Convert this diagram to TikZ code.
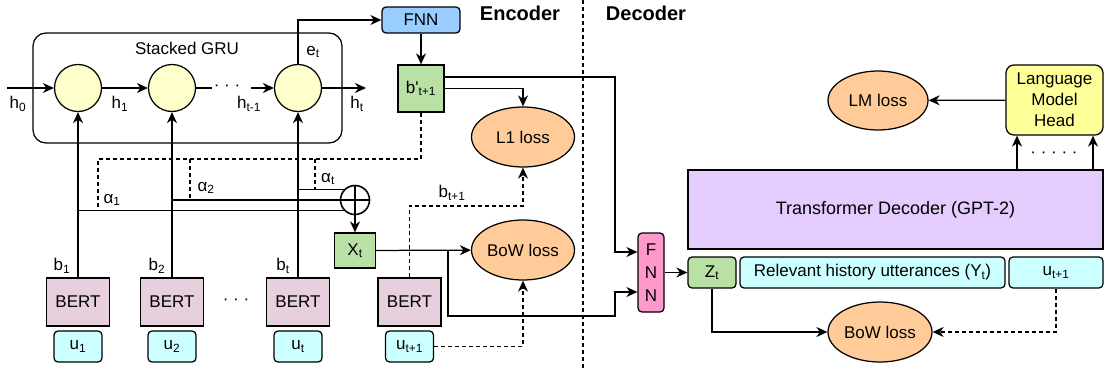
\documentclass[tikz,border=0pt]{standalone}
\usepackage{fontspec}
\setmainfont{Liberation Sans}
\usetikzlibrary{arrows.meta}
\usetikzlibrary{shapes}
\usetikzlibrary{calc}
\usetikzlibrary{positioning}

\definecolor{gruyellow}{HTML}{FFFFCC}
\definecolor{bertpink}{HTML}{E6D0DE}
\definecolor{uttcyan}{HTML}{CCFFFF}
\definecolor{lossorange}{HTML}{FFCC99}
\definecolor{fnnblue}{HTML}{99CCFF}
\definecolor{vecgreen}{HTML}{B9E0A5}
\definecolor{fnnpink}{HTML}{FF99CC}
\definecolor{transpurple}{HTML}{E5CCFF}
\definecolor{headyellow}{HTML}{FFFF99}

\begin{document}
\begin{tikzpicture}[x=1pt, y=-1pt, line width=1.25pt,
    >={Stealth[length=11pt,width=10pt,inset=3.5pt]},
    every node/.style={font=\fontsize{17}{20}\selectfont, inner sep=0pt},
    dline/.style={dash pattern=on 4pt off 3pt},
    gru/.style={circle, draw, fill=gruyellow, minimum size=47pt},
    bert/.style={draw, fill=bertpink, minimum width=63pt, minimum height=48pt},
    utt/.style={draw, fill=uttcyan, rounded corners=4pt, minimum width=48pt, minimum height=31pt},
    vec/.style={draw, fill=vecgreen},
    loss/.style={ellipse, draw, fill=lossorange, minimum width=103pt, minimum height=60pt}]

  \useasboundingbox (0,0) rectangle (1110,370);

%%%%%%%%%%%% Stacked GRU
  \node[draw, rounded corners=13pt, minimum width=309pt, minimum height=110pt] (stack) at (187.5,88) {};
  \node (stackname) at (187,48) {Stacked GRU};
  \node[gru] (g1) at (78,88) {};
  \node[gru] (g2) at (172,88) {};
  \node[gru] (gt) at (298,88) {};
  \coordinate (hin) at (7,88);
  \coordinate (hmid) at (251,88);
  \coordinate (hout) at (366,88);
  \draw[->] (hin) -- (g1);
  \draw[->] (g1) -- (g2);
  \draw (g2.east) -- ++(16,0);
  \node (hdots) at (227,88) {· · ·};
  \draw[->] (hmid) -- (gt);
  \draw[->] (gt) -- (hout);
  \node (lh0) at (18,104) {h\textsubscript{0}};
  \node (lh1) at (120,104) {h\textsubscript{1}};
  \node (lhm) at (249,104) {h\textsubscript{t-1}};
  \node (lht) at (357,104) {h\textsubscript{t}};

%%%%%%%%%%%% FNN and predicted b'
  \node[draw, fill=fnnblue, rounded corners=4pt, minimum width=78pt, minimum height=26pt] (fnn) at (421,20) {FNN};
  \node[vec, minimum width=46pt, minimum height=47pt] (bp) at (421,88.5) {b\textquotesingle\textsubscript{t+1}};
  \draw[->] (gt.north) |- (fnn.west);
  \node (let) at (313,52) {e\textsubscript{t}};
  \draw[->] (fnn) -- (bp);
  \node[loss] (l1) at (523,137) {L1 loss};
  \draw[->] (bp.east) -| (l1);

%%%%%%%%%%%% BERT encoders
  \node[bert] (bert1) at (78,302) {BERT};
  \node[bert] (bert2) at (172,302) {BERT};
  \node[bert] (bertt) at (298,302) {BERT};
  \node (bdots) at (236,302) {· · ·};
  \node[utt] (u1) at (78,346.5) {u\textsubscript{1}};
  \node[utt] (u2) at (172,346.5) {u\textsubscript{2}};
  \node[utt] (ut) at (298,346.5) {u\textsubscript{t}};
  \node (lb1) at (62,266) {b\textsubscript{1}};
  \node (lb2) at (157,266) {b\textsubscript{2}};
  \node (lbt) at (283,266) {b\textsubscript{t}};
  \draw[->] (bert1) -- (g1);
  \draw[->] (bert2) -- (g2);
  \draw[->] (bertt) -- (gt);

%%%%%%%%%%%% Attention sum
  \node[circle, draw, line width=1.6pt, minimum size=29pt] (plus) at (355,200) {};
  \draw[line width=1.6pt] (plus.north) -- (plus.south);
  \draw[line width=1.6pt] (plus.west) -- (plus.east);
  \draw (bert1.north |- plus.225) -- (plus.225);
  \draw (bert2.north |- plus.180) -- (plus.180);
  \draw (bertt.north |- plus.135) -- (plus.135);
  \coordinate (att) at (421,159);
  \coordinate (a1) at (98,159);
  \coordinate (a2) at (190,159);
  \coordinate (at) at (315,159);
  \draw[dline] (bp.south) -- (att) -- (a1) -- (a1 |- plus.225);
  \draw[dline] (a2) -- (a2 |- plus.180);
  \draw[dline] (at) -- (at |- plus.135);
  \node (la1) at (112,200) {α\textsubscript{1}};
  \node (la2) at (206,188) {α\textsubscript{2}};
  \node (lat) at (328,179) {α\textsubscript{t}};
  \node[vec, minimum width=41pt, minimum height=35pt] (xt) at (355,250.5) {X\textsubscript{t}};
  \draw[->] (plus) -- (xt);

%%%%%%%%%%%% Next utterance
  \node[loss] (bow1) at (523,250) {BoW loss};
  \node[bert] (bertn) at (409.5,302) {BERT};
  \node[utt] (un) at (409.5,346.5) {u\textsubscript{t+1}};
  \coordinate (btop) at (523,206);
  \draw[dline,->] (bertn.north) |- (btop) -- (l1);
  \node (lbn) at (452,193) {b\textsubscript{t+1}};
  \draw[dline,->] (un.east) -| (bow1.south);
  \draw[->] (xt) -- (bow1);

%%%%%%%%%%%% Encoder / Decoder
  \node[font=\fontsize{20}{22}\selectfont\bfseries] (enc) at (520,13) {Encoder};
  \node[font=\fontsize{20}{22}\selectfont\bfseries] (dec) at (646,13) {Decoder};
  \coordinate (divtop) at (583,0);
  \coordinate (divbot) at (583,370);
  \draw[dline] (divtop) -- (divbot);

%%%%%%%%%%%% Decoder
  \node[draw, fill=fnnpink, rounded corners=4pt, minimum width=26pt, minimum height=79pt,
        align=center, font=\fontsize{17}{23}\selectfont] (fnn2) at (651,272.5) {F\\N\\N};
  \coordinate (dec1) at (615,252);
  \coordinate (xsplit) at (448,250);
  \coordinate (dec2) at (615,316);
  \draw[->] (bp.east |- 0,77) -| (dec1) -- (fnn2.west |- dec1);
  \draw[->] (xsplit) |- (dec2) |- (fnn2.west |- 0,292);

  \node[vec, rounded corners=4pt, minimum width=48pt, minimum height=31pt] (zt) at (712,272.5) {Z\textsubscript{t}};
  \node[utt, minimum width=265pt] (hist) at (872.5,272.5) {Relevant history utterances (Y\textsubscript{t})};
  \node[utt, minimum width=94pt] (ud) at (1056,272.5) {u\textsubscript{t+1}};
  \draw[->] (fnn2) -- (zt);

  \node[draw, fill=transpurple, minimum width=415pt, minimum height=79pt,
        font=\fontsize{18}{20}\selectfont] (trans) at (895.5,209.5) {Transformer Decoder (GPT-2)};
  \node[draw, fill=headyellow, rounded corners=8pt, minimum width=97pt, minimum height=70pt,
        align=center, font=\fontsize{17}{21}\selectfont] (lmh) at (1054.5,100) {Language\\Model\\Head};
  \node[loss, minimum width=100pt, minimum height=59pt] (lmloss) at (878,100.5) {LM loss};
  \draw[->] (lmh) -- (lmloss);
  \draw[->] (trans.north -| 1017,0) -- (lmh.south -| 1017,0);
  \draw[->] (trans.north -| 1093,0) -- (lmh.south -| 1093,0);
  \node (tdots) at (1054,155) {· · · · ·};

  \node[loss, minimum width=104pt] (bow2) at (880,332) {BoW loss};
  \draw[->] (zt.south) |- (bow2.west);
  \draw[dline,->] (ud.south) |- (bow2.east);
\end{tikzpicture}
\end{document}
